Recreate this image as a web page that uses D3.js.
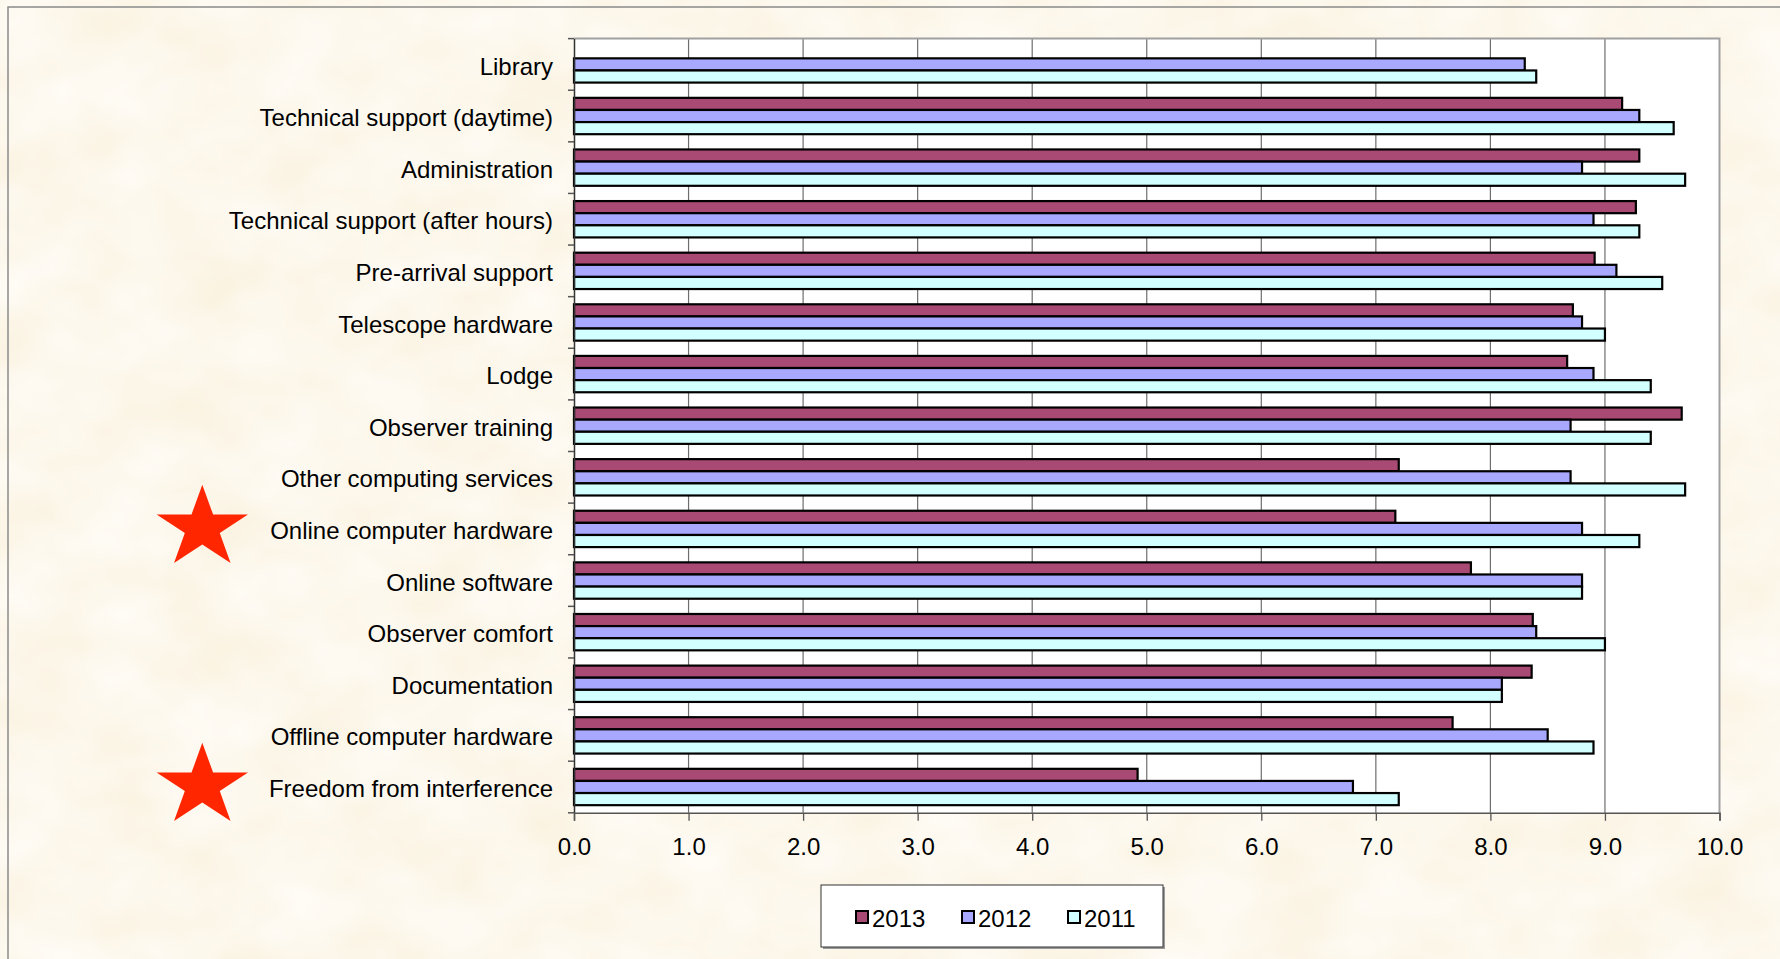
<!DOCTYPE html>
<html>
<head>
<meta charset="utf-8">
<script src="https://cdn.jsdelivr.net/npm/d3@7"></script>
<style>
  html, body { margin: 0; padding: 0; background: #fdfdfd; }
  svg { display: block; }
  text { font-family: "Liberation Sans", Arial, sans-serif; fill: #000; }
</style>
</head>
<body>
<svg id="chart" width="1780" height="959"></svg>
<script>
// Survey categories, top to bottom
const categories = [
  "Library",
  "Technical support (daytime)",
  "Administration",
  "Technical support (after hours)",
  "Pre-arrival support",
  "Telescope hardware",
  "Lodge",
  "Observer training",
  "Other computing services",
  "Online computer hardware",
  "Online software",
  "Observer comfort",
  "Documentation",
  "Offline computer hardware",
  "Freedom from interference"
];

// Series (years) in drawing order within each category
const seriesNames = ["2013", "2012", "2011"];

// Mean scores per category, one array per year
const values2013 = [null, 9.15, 9.3, 9.27, 8.91, 8.72, 8.67, 9.67, 7.2, 7.17, 7.83, 8.37, 8.36, 7.67, 4.92];
const values2012 = [8.3, 9.3, 8.8, 8.9, 9.1, 8.8, 8.9, 8.7, 8.7, 8.8, 8.8, 8.4, 8.1, 8.5, 6.8];
const values2011 = [8.4, 9.6, 9.7, 9.3, 9.5, 9.0, 9.4, 9.4, 9.7, 9.3, 8.8, 9.0, 8.1, 8.9, 7.2];

// Axis ticks
const xTickValues = [0, 1, 2, 3, 4, 5, 6, 7, 8, 9, 10];
const xTickLabels = ["0.0", "1.0", "2.0", "3.0", "4.0", "5.0", "6.0", "7.0", "8.0", "9.0", "10.0"];

// Categories flagged with a star
const flagged = ["Online computer hardware", "Freedom from interference"];

const seriesValues = { "2013": values2013, "2012": values2012, "2011": values2011 };
const colors = { "2013": "#a94a74", "2012": "#a8a8ff", "2011": "#d2ffff" };

const svg = d3.select("#chart");
const W = 1780, H = 959;

// Parchment background texture
const defs = svg.append("defs");
const filt = defs.append("filter").attr("id", "parchment")
  .attr("x", 0).attr("y", 0).attr("width", "100%").attr("height", "100%")
  .attr("filterUnits", "userSpaceOnUse");
filt.append("feTurbulence").attr("type", "fractalNoise")
  .attr("baseFrequency", "0.012 0.016").attr("numOctaves", 3).attr("seed", 11).attr("result", "noise");
filt.append("feColorMatrix").attr("in", "noise").attr("type", "matrix")
  .attr("values", "0.05 0 0 0 0.955  0.10 0 0 0 0.885  0.22 0 0 0 0.73  0 0 0 0 1");

svg.append("rect").attr("x", 8).attr("y", 7).attr("width", W - 8).attr("height", H - 7)
  .attr("filter", "url(#parchment)");
// Outer frame edges (top and left)
svg.append("path").attr("d", `M8,${H} L8,7 L${W},7`)
  .attr("fill", "none").attr("stroke", "#8a8a8a").attr("stroke-width", 1.5);

// Plot area
const plot = { left: 574, right: 1719.5, top: 38.6, bottom: 812.8 };

const x = d3.scaleLinear().domain([0, 10]).range([plot.left, plot.right]);
const y0 = d3.scaleBand().domain(categories).range([plot.top, plot.bottom]).padding(0);
const y1 = d3.scaleBand().domain(seriesNames).range([0, y0.bandwidth()])
  .paddingInner(0).paddingOuter(0.63);

svg.append("rect")
  .attr("x", plot.left).attr("y", plot.top)
  .attr("width", plot.right - plot.left).attr("height", plot.bottom - plot.top)
  .attr("fill", "#ffffff");

// Vertical gridlines
svg.append("g").selectAll("line")
  .data(xTickValues.slice(1, -1))
  .join("line")
  .attr("x1", d => x(d)).attr("x2", d => x(d))
  .attr("y1", plot.top).attr("y2", plot.bottom)
  .attr("stroke", "#6e6e6e").attr("stroke-width", 1.2);

// Plot border (top and right)
svg.append("path")
  .attr("d", `M${plot.left},${plot.top} L${plot.right},${plot.top} L${plot.right},${plot.bottom}`)
  .attr("fill", "none").attr("stroke", "#a0a0a0").attr("stroke-width", 2);

// Bars
const rows = categories.map((c, i) => ({
  category: c,
  bars: seriesNames.map(s => ({ series: s, value: seriesValues[s][i] })).filter(b => b.value != null)
}));

const groups = svg.append("g").selectAll("g")
  .data(rows)
  .join("g")
  .attr("transform", d => `translate(0,${y0(d.category)})`);

groups.selectAll("rect")
  .data(d => d.bars)
  .join("rect")
  .attr("x", x(0))
  .attr("y", d => y1(d.series))
  .attr("width", d => x(d.value) - x(0))
  .attr("height", y1.bandwidth())
  .attr("fill", d => colors[d.series])
  .attr("stroke", "#000")
  .attr("stroke-width", 2.2);

// Y axis with category labels
const yAxis = d3.axisLeft(y0).tickSize(0).tickPadding(21);
const gy = svg.append("g").attr("transform", `translate(${plot.left},0)`).call(yAxis);
gy.select(".domain").attr("stroke", "#333").attr("stroke-width", 1.5);
gy.selectAll("text").attr("font-size", 24).attr("dy", "0.42em")
  .attr("font-family", '"Liberation Sans", Arial, sans-serif');
// Tick marks at category boundaries
const boundaries = categories.map(c => y0(c)).concat([plot.bottom]);
svg.append("g").selectAll("line")
  .data(boundaries)
  .join("line")
  .attr("x1", plot.left - 6).attr("x2", plot.left)
  .attr("y1", d => d).attr("y2", d => d)
  .attr("stroke", "#555").attr("stroke-width", 1.5);

// X axis
const xAxis = d3.axisBottom(x).tickValues(xTickValues)
  .tickFormat((d, i) => xTickLabels[i]).tickSizeOuter(0).tickSize(8).tickPadding(17);
const gx = svg.append("g").attr("transform", `translate(0,${plot.bottom})`).call(xAxis);
gx.select(".domain").attr("stroke", "#555").attr("stroke-width", 1.5);
gx.selectAll(".tick line").attr("stroke", "#555").attr("stroke-width", 1.3);
gx.selectAll("text").attr("font-size", 24).attr("font-family", '"Liberation Sans", Arial, sans-serif');

// Star markers next to flagged categories
function starPath(R, r, sx) {
  const pts = [];
  for (let k = 0; k < 10; k++) {
    const rad = k % 2 === 0 ? R : r;
    const a = -Math.PI / 2 + k * Math.PI / 5;
    pts.push([rad * Math.cos(a) * sx, rad * Math.sin(a)]);
  }
  return "M" + pts.map(p => p.join(",")).join("L") + "Z";
}
svg.append("g").selectAll("path")
  .data(flagged)
  .join("path")
  .attr("d", starPath(43.3, 43.3 * 0.382, 1.11))
  .attr("transform", d => `translate(202.3,${y0(d) + y0.bandwidth() / 2 - 1})`)
  .attr("fill", "#ff2600");

// Legend
const legend = svg.append("g").attr("transform", "translate(821,885)");
legend.append("rect").attr("x", 2).attr("y", 2).attr("width", 342).attr("height", 62)
  .attr("fill", "#9a9a9a");
legend.append("rect").attr("width", 342).attr("height", 62)
  .attr("fill", "#ffffff").attr("stroke", "#333").attr("stroke-width", 1);
const items = legend.selectAll("g.item")
  .data(seriesNames)
  .join("g").attr("class", "item")
  .attr("transform", (d, i) => `translate(${35 + i * 106},0)`);
items.append("rect")
  .attr("x", 0).attr("y", 26).attr("width", 12).attr("height", 12)
  .attr("fill", d => colors[d]).attr("stroke", "#000").attr("stroke-width", 2);
items.append("text")
  .attr("x", 16).attr("y", 42)
  .attr("font-size", 24)
  .text(d => d);
</script>
</body>
</html>
